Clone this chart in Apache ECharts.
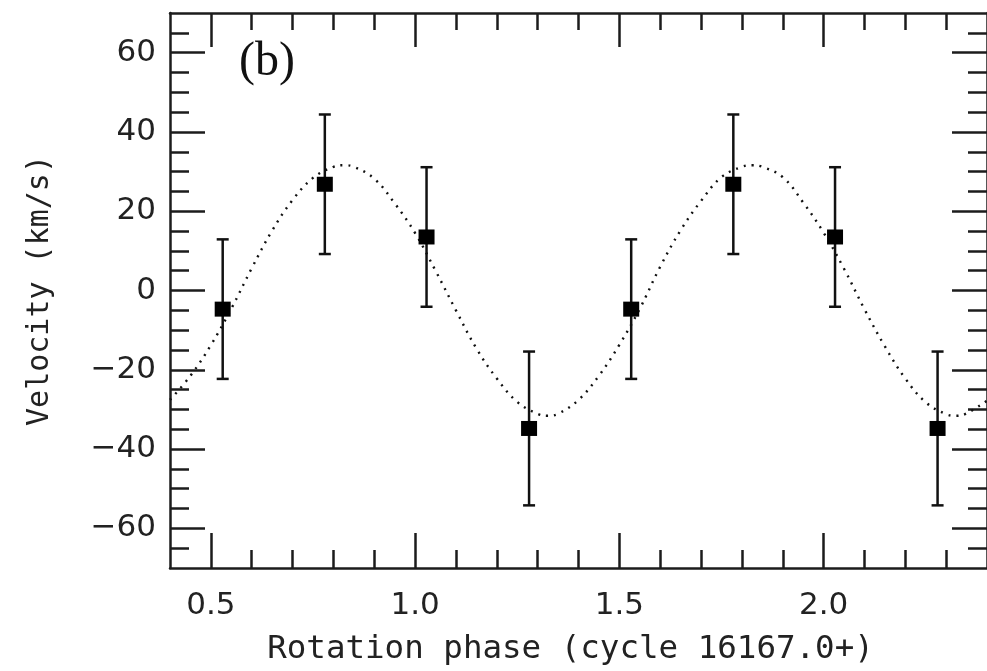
<!DOCTYPE html>
<html>
<head>
<meta charset="utf-8">
<script src="https://cdn.jsdelivr.net/npm/echarts@6/dist/echarts.min.js"></script>
<style>
  html, body { margin: 0; padding: 0; background: #fff; }
  #chart { width: 987px; height: 671px; }
</style>
</head>
<body>
<div id="chart"></div>
<script>
// Fitted radial-velocity curve (rotation phase, km/s)
const curvePhase = [0.40, 0.45, 0.50, 0.55, 0.60, 0.65, 0.70, 0.75, 0.80, 0.825, 0.85,
  0.90, 0.95, 1.00, 1.05, 1.10, 1.15, 1.20, 1.25, 1.30, 1.325,
  1.35, 1.40, 1.45, 1.50, 1.55, 1.60, 1.65, 1.70, 1.75, 1.80, 1.825,
  1.85, 1.90, 1.95, 2.00, 2.05, 2.10, 2.15, 2.20, 2.25, 2.30, 2.325, 2.35, 2.40];
const curveVelocity = [-27.6, -21.5, -13.8, -4.6, 5.6, 15.1, 22.8, 28.4, 31.2, 31.6, 31.2,
  28.2, 22.0, 14.5, 5.0, -5.0, -14.6, -22.2, -28.1, -31.1, -31.6,
  -31.1, -27.6, -21.5, -13.7, -4.6, 6.0, 15.2, 22.6, 28.6, 31.2, 31.6,
  31.2, 28.6, 22.2, 14.6, 5.5, -4.7, -14.1, -22.2, -28.2, -31.2, -31.6, -31.0, -27.8];

// Measured velocities with their uncertainties
const pointPhase = [0.529, 0.779, 1.028, 1.279, 1.529, 1.779, 2.028, 2.279];
const pointVelocity = [-4.7, 26.8, 13.5, -34.8, -4.7, 26.8, 13.5, -34.8];
const pointError = [17.6, 17.6, 17.6, 19.4, 17.6, 17.6, 17.6, 19.4];

// Axis ticks
const phaseMajorTicks = [0.5, 1.0, 1.5, 2.0];
const phaseMinorTicks = [0.5, 0.6, 0.7, 0.8, 0.9, 1.0, 1.1, 1.2, 1.3, 1.4, 1.5,
  1.6, 1.7, 1.8, 1.9, 2.0, 2.1, 2.2, 2.3];
const velocityMajorTicks = [-60, -40, -20, 0, 20, 40, 60];
const velocityMinorTicks = [-65, -60, -55, -50, -45, -40, -35, -30, -25, -20, -15, -10, -5,
  0, 5, 10, 15, 20, 25, 30, 35, 40, 45, 50, 55, 60, 65];

const INK = '#1c1c1c';
const PHASE_MIN = 0.4, PHASE_MAX = 2.4;
const VEL_MIN = -70, VEL_MAX = 70;
const labelFont = { fontFamily: 'DejaVu Sans', fontSize: 31, color: '#222' };

function xAxisDef(position, ticks, len, withLabels, withLine) {
  return {
    type: 'value', gridIndex: 0, position: position,
    min: PHASE_MIN, max: PHASE_MAX,
    axisLine: { show: withLine, onZero: false, lineStyle: { color: INK, width: 2.5 } },
    axisTick: { show: true, inside: true, length: len, customValues: ticks,
      lineStyle: { color: INK, width: 2.5 } },
    axisLabel: withLabels ? Object.assign({ show: true, margin: 22,
      customValues: phaseMajorTicks, formatter: v => v.toFixed(1) }, labelFont) : { show: false },
    splitLine: { show: false }
  };
}
function yAxisDef(position, ticks, len, withLabels, withLine) {
  return {
    type: 'value', gridIndex: 0, position: position,
    min: VEL_MIN, max: VEL_MAX,
    axisLine: { show: withLine, onZero: false, lineStyle: { color: INK, width: 2.5 } },
    axisTick: { show: true, inside: true, length: len, customValues: ticks,
      lineStyle: { color: INK, width: 2.5 } },
    axisLabel: withLabels ? Object.assign({ show: true, margin: 14,
      customValues: velocityMajorTicks,
      formatter: v => (v < 0 ? '\u2212' + Math.abs(v) : String(v)) }, labelFont) : { show: false },
    splitLine: { show: false }
  };
}

const xMain = xAxisDef('bottom', phaseMajorTicks, 35, true, true);
xMain.name = 'Rotation phase (cycle 16167.0+)';
xMain.nameLocation = 'middle';
xMain.nameGap = 65;
xMain.nameTextStyle = { fontFamily: 'DejaVu Sans Mono', fontSize: 32.5, color: '#222',
  padding: [0, 16, 0, 0] };

const yMain = yAxisDef('left', velocityMajorTicks, 35, true, true);
yMain.name = 'Velocity (km/s)';
yMain.nameLocation = 'middle';
yMain.nameGap = 115;
yMain.nameTextStyle = { fontFamily: 'DejaVu Sans Mono', fontSize: 30, color: '#222' };

const errorData = pointPhase.map((p, i) => [p, pointVelocity[i] - pointError[i], pointVelocity[i] + pointError[i]]);
const pointData = pointPhase.map((p, i) => [p, pointVelocity[i]]);
const curveData = curvePhase.map((p, i) => [p, curveVelocity[i]]);

const chart = echarts.init(document.getElementById('chart'), null, { renderer: 'canvas' });
chart.setOption({
  backgroundColor: '#ffffff',
  animation: false,
  grid: { left: 170, top: 13, right: -6, bottom: 102, containLabel: false },
  xAxis: [
    xMain,
    xAxisDef('bottom', phaseMinorTicks, 18, false, false),
    xAxisDef('top', phaseMajorTicks, 34, false, true),
    xAxisDef('top', phaseMinorTicks, 17, false, false)
  ],
  yAxis: [
    yMain,
    yAxisDef('left', velocityMinorTicks, 19, false, false),
    yAxisDef('right', velocityMajorTicks, 35, false, true),
    yAxisDef('right', velocityMinorTicks, 19, false, false)
  ],
  graphic: [{
    type: 'text', left: 239, top: 38, z: 10,
    style: { text: '(b)', fontFamily: 'Liberation Serif', fontSize: 48, fill: '#111' }
  }],
  series: [
    {
      type: 'line', xAxisIndex: 0, yAxisIndex: 0, data: curveData,
      smooth: 0.4, showSymbol: false, symbol: 'none', z: 2,
      lineStyle: { color: '#111', width: 2.4, type: [2, 6] }
    },
    {
      type: 'custom', xAxisIndex: 0, yAxisIndex: 0, data: errorData, z: 3,
      renderItem: function (params, api) {
        const x = api.value(0);
        const lo = api.coord([x, api.value(1)]);
        const hi = api.coord([x, api.value(2)]);
        const half = 6;
        const st = { stroke: '#111', lineWidth: 2.5 };
        return {
          type: 'group',
          children: [
            { type: 'line', shape: { x1: hi[0], y1: hi[1], x2: lo[0], y2: lo[1] }, style: st },
            { type: 'line', shape: { x1: hi[0] - half, y1: hi[1], x2: hi[0] + half, y2: hi[1] }, style: st },
            { type: 'line', shape: { x1: lo[0] - half, y1: lo[1], x2: lo[0] + half, y2: lo[1] }, style: st }
          ]
        };
      }
    },
    {
      type: 'scatter', xAxisIndex: 0, yAxisIndex: 0, data: pointData, z: 4,
      symbol: 'rect', symbolSize: [16, 15],
      itemStyle: { color: '#000', opacity: 1 }
    }
  ]
});
</script>
</body>
</html>
